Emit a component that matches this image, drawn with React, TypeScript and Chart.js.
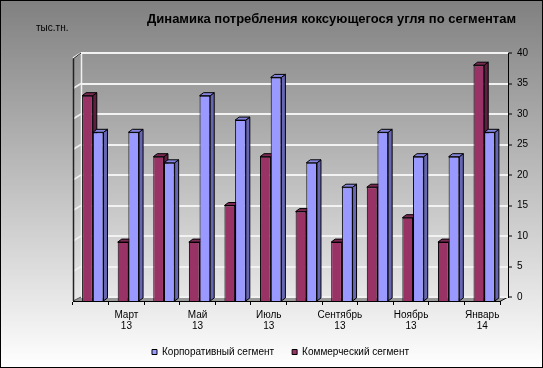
import React, { useEffect, useRef } from 'react';
import { Chart, registerables, LinearScale, CategoryScale } from 'chart.js';

Chart.register(...registerables);

// ---- data ----
const CATEGORIES: string[][] = [
  ['Февраль', '13'], ['Март', '13'], ['Апрель', '13'], ['Май', '13'],
  ['Июнь', '13'], ['Июль', '13'], ['Август', '13'], ['Сентябрь', '13'],
  ['Октябрь', '13'], ['Ноябрь', '13'], ['Декабрь', '13'], ['Январь', '14'],
];
const COMMERCIAL = [33, 9, 23, 9, 15, 23, 14, 9, 18, 13, 9, 38];
const CORPORATE = [27, 27, 22, 33, 29, 36, 22, 18, 27, 23, 23, 27];
const SERIES_NAMES = ['Коммерческий сегмент', 'Корпоративный сегмент'];
const Y_MIN = 0;
const Y_MAX = 40;
const Y_STEP = 5;
const TITLE = 'Динамика потребления коксующегося угля по сегментам';
const UNIT_LABEL = 'тыс.тн.';

// ---- style ----
const FONT = '"Liberation Sans", Arial, sans-serif';
const FRONT_COLORS = ['#993366', '#9999ff'];
const TOP_COLORS = ['#7a2952', '#8585e0'];
const SIDE_COLORS = ['#5e1f40', '#6666b3'];
const WALL_DX = 8;
const WALL_DY = 5;
const FLOOR_DY = 4;
const BAR_DX = 4;
const BAR_DY = 3;
const BAR_SHIFT = 2;
const BAR_BASE = -0.65;

class BackWallScale extends LinearScale {
  static id = 'backWall';
  _computeLabelArea() {
    return undefined as any;
  }
  draw(area: any) {
    const c = (this as any).ctx;
    c.save();
    c.translate(WALL_DX, 0);
    super.draw(area);
    c.restore();
  }
}

class FrontFloorScale extends CategoryScale {
  static id = 'frontFloor';
  draw(area: any) {
    const c = (this as any).ctx;
    c.save();
    c.translate(0, FLOOR_DY);
    super.draw(area);
    c.restore();
  }
}

Chart.register(BackWallScale as any, FrontFloorScale as any);

const scenePlugin = {
  id: 'scene3d',
  beforeDraw(chart: any) {
    const { ctx, width, height, chartArea: ca } = chart;
    ctx.save();
    const g = ctx.createLinearGradient(0, 0, 0, height);
    g.addColorStop(0, '#808080');
    g.addColorStop(1, '#ffffff');
    ctx.fillStyle = g;
    ctx.fillRect(0, 0, width, height);

    // floor
    ctx.beginPath();
    ctx.moveTo(ca.left, ca.bottom + FLOOR_DY);
    ctx.lineTo(ca.right, ca.bottom + FLOOR_DY);
    ctx.lineTo(ca.right + WALL_DX, ca.bottom);
    ctx.lineTo(ca.left + WALL_DX, ca.bottom);
    ctx.closePath();
    ctx.fillStyle = '#999999';
    ctx.fill();
    ctx.strokeStyle = '#000';
    ctx.lineWidth = 1;
    ctx.beginPath();
    ctx.moveTo(ca.right, ca.bottom + FLOOR_DY + 0.5);
    ctx.lineTo(ca.right + WALL_DX, ca.bottom);
    ctx.stroke();
    ctx.strokeStyle = '#555';
    ctx.beginPath();
    ctx.moveTo(ca.left, ca.bottom + FLOOR_DY);
    ctx.lineTo(ca.left + WALL_DX, ca.bottom);
    ctx.stroke();

    // left wall slants
    const y = chart.scales.y;
    ctx.strokeStyle = '#f0f0f0';
    ctx.lineWidth = 1.5;
    for (let v = Y_MIN + Y_STEP; v <= Y_MAX; v += Y_STEP) {
      const py = y.getPixelForValue(v);
      ctx.beginPath();
      ctx.moveTo(ca.left, py + WALL_DY);
      ctx.lineTo(ca.left + WALL_DX, py);
      ctx.stroke();
    }
    // back wall left edge
    ctx.beginPath();
    ctx.moveTo(ca.left + WALL_DX + 0.5, ca.top);
    ctx.lineTo(ca.left + WALL_DX + 0.5, ca.bottom);
    ctx.stroke();
    // front-left edge
    ctx.strokeStyle = '#222';
    ctx.lineWidth = 1.5;
    ctx.beginPath();
    ctx.moveTo(ca.left + 0.5, ca.top + WALL_DY + 1);
    ctx.lineTo(ca.left + 0.5, ca.bottom + FLOOR_DY);
    ctx.stroke();
    ctx.lineWidth = 1;
    ctx.beginPath();
    ctx.moveTo(ca.left, ca.top + WALL_DY + 1);
    ctx.lineTo(ca.left + WALL_DX, ca.top);
    ctx.stroke();

    // unit label
    ctx.fillStyle = '#000';
    ctx.font = `10px ${FONT}`;
    ctx.textBaseline = 'middle';
    ctx.textAlign = 'left';
    ctx.fillText(UNIT_LABEL, 36, 28);
    ctx.restore();
  },
  beforeDatasetsDraw(chart: any) {
    const ctx = chart.ctx;
    ctx.save();
    ctx.translate(BAR_SHIFT, 0);
    chart.data.datasets.forEach((_ds: any, i: number) => {
      const meta = chart.getDatasetMeta(i);
      meta.data.forEach((el: any) => {
        const { x, y, width, base } = el.getProps(['x', 'y', 'width', 'base'], true);
        const left = x - width / 2;
        const right = x + width / 2;
        ctx.lineWidth = 1;
        ctx.strokeStyle = '#000';
        // side face
        ctx.beginPath();
        ctx.moveTo(right, y);
        ctx.lineTo(right + BAR_DX, y - BAR_DY);
        ctx.lineTo(right + BAR_DX, base - BAR_DY);
        ctx.lineTo(right, base);
        ctx.closePath();
        ctx.fillStyle = SIDE_COLORS[i];
        ctx.fill();
        ctx.stroke();
        // top face
        ctx.beginPath();
        ctx.moveTo(left, y);
        ctx.lineTo(left + BAR_DX, y - BAR_DY);
        ctx.lineTo(right + BAR_DX, y - BAR_DY);
        ctx.lineTo(right, y);
        ctx.closePath();
        ctx.fillStyle = TOP_COLORS[i];
        ctx.fill();
        ctx.stroke();
      });
    });
  },
  afterDatasetsDraw(chart: any) {
    chart.ctx.restore();
  },
  afterDraw(chart: any) {
    const { ctx, width, height } = chart;
    ctx.save();
    ctx.strokeStyle = '#000';
    ctx.lineWidth = 1;
    ctx.strokeRect(0.5, 0.5, width - 1, height - 1);
    ctx.restore();
  },
};

export default function App() {
  const ref = useRef<HTMLCanvasElement>(null);
  useEffect(() => {
    document.body.style.margin = '0';
    const canvas = ref.current;
    if (!canvas) return;
    const chart = new Chart(canvas, {
      type: 'bar',
      data: {
        labels: CATEGORIES,
        datasets: [
          {
            label: SERIES_NAMES[0],
            data: COMMERCIAL,
            backgroundColor: FRONT_COLORS[0],
            borderColor: '#000',
            borderWidth: 1,
            base: BAR_BASE,
            clip: false,
            xAxisID: 'x',
            yAxisID: 'y',
          } as any,
          {
            label: SERIES_NAMES[1],
            data: CORPORATE,
            backgroundColor: FRONT_COLORS[1],
            borderColor: '#000',
            borderWidth: 1,
            base: BAR_BASE,
            clip: false,
            xAxisID: 'x',
            yAxisID: 'y',
          } as any,
        ],
      },
      options: {
        responsive: false,
        animation: false,
        devicePixelRatio: 1,
        events: [],
        datasets: { bar: { categoryPercentage: 0.6, barPercentage: 1 } },
        layout: { padding: { left: 45, right: 27, top: 0, bottom: 1 } },
        scales: {
          x: {
            type: 'frontFloor' as any,
            axis: 'x',
            position: 'bottom',
            offset: true,
            grid: {
              display: true,
              offset: true,
              drawOnChartArea: false,
              drawTicks: true,
              tickLength: 4,
              color: '#000',
              tickColor: '#000',
            },
            border: { display: true, color: '#000', width: 1 },
            ticks: {
              autoSkip: false,
              maxRotation: 0,
              minRotation: 0,
              padding: 4,
              color: '#000',
              font: { family: FONT, size: 10, lineHeight: 1.15 },
              callback: function (this: any, value: any, index: number) {
                return index % 2 === 1 ? this.getLabelForValue(value) : '';
              },
            },
            afterFit: (s: any) => {
              s.height = 32;
            },
          } as any,
          y: {
            type: 'backWall' as any,
            axis: 'y',
            position: 'right',
            min: Y_MIN,
            max: Y_MAX,
            grid: {
              display: true,
              color: '#f2f2f2',
              lineWidth: 2,
              drawTicks: true,
              tickLength: 4,
              tickColor: '#000',
              tickWidth: 1,
            },
            border: { display: true, color: '#000', width: 1 },
            ticks: {
              stepSize: Y_STEP,
              padding: 5,
              color: '#000',
              font: { family: FONT, size: 10 },
            },
            afterFit: (s: any) => {
              s.width = 16;
            },
          } as any,
          yPad: {
            type: 'linear',
            axis: 'y',
            position: 'left',
            display: true,
            min: 0,
            max: 1,
            ticks: { display: false },
            grid: { display: false },
            border: { display: false },
            afterFit: (s: any) => {
              s.width = 28;
            },
          } as any,
        },
        plugins: {
          tooltip: { enabled: false },
          title: {
            display: true,
            text: TITLE,
            align: 'end',
            color: '#000',
            font: { family: FONT, size: 13, weight: 'bold' },
            padding: { top: 12, bottom: 25.4 },
          },
          legend: {
            display: true,
            position: 'bottom',
            reverse: true,
            labels: {
              color: '#000',
              font: { family: FONT, size: 10 },
              boxWidth: 5,
              boxHeight: 5,
              padding: 18,
            },
          },
        },
      },
      plugins: [scenePlugin],
    });
    return () => chart.destroy();
  }, []);
  return (
    <div style={{ width: 543, height: 368 }}>
      <canvas ref={ref} width={543} height={368} style={{ display: 'block' }} />
    </div>
  );
}
